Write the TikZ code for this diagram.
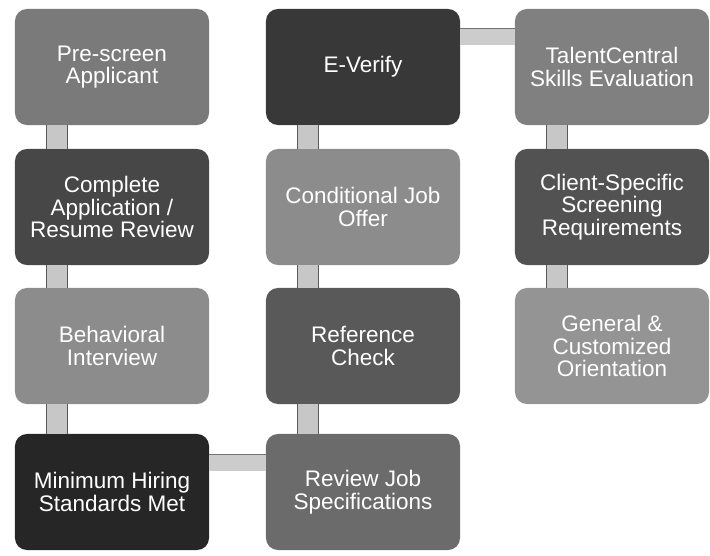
\documentclass[tikz,border=0pt]{standalone}
\usepackage{fontspec}
\setmainfont{Liberation Sans}
\usetikzlibrary{calc}

\begin{document}
\begin{tikzpicture}[x=0.025cm,y=-0.025cm,
stage/.style={rectangle,rounded corners=0.3cm,minimum width=4.85cm,minimum height=2.9cm,inner sep=2pt,align=center,text=white,font=\fontsize{16}{16}\selectfont},
vlink/.style={draw=black!65,line width=0.6pt,double=black!22,double distance=0.5cm},
hlink/.style={draw=black!55,line width=0.5pt,double=black!20,double distance=0.4cm}]

\useasboundingbox (0,0) rectangle (710,555);

\node[stage,fill=black!52] (pre) at (112,67) {Pre-screen\\Applicant};
\node[stage,fill=black!72] (app) at (112,207) {Complete\\Application /\\Resume Review};
\node[stage,fill=black!45] (beh) at (112,346) {Behavioral\\Interview};
\node[stage,fill=black!85] (mhs) at (112,492) {Minimum Hiring\\Standards Met};

\node[stage,fill=black!58] (rjs) at (363,492) {Review Job\\Specifications};
\node[stage,fill=black!65] (ref) at (363,346) {Reference\\Check};
\node[stage,fill=black!45] (cjo) at (363,207) {Conditional Job\\Offer};
\node[stage,fill=black!78] (ever) at (363,67) {E-Verify};

\node[stage,fill=black!50] (tal) at (612,67) {TalentCentral\\Skills Evaluation};
\node[stage,fill=black!68] (csr) at (612,207) {Client-Specific\\Screening\\Requirements};
\node[stage,fill=black!42] (gen) at (612,346) {General \&\\Customized\\Orientation};

\draw[vlink] ($(pre.south west)+(42,0)$) -- ($(app.north west)+(42,0)$);
\draw[vlink] ($(app.south west)+(42,0)$) -- ($(beh.north west)+(42,0)$);
\draw[vlink] ($(beh.south west)+(42,0)$) -- ($(mhs.north west)+(42,0)$);
\draw[hlink] ($(mhs.north east)+(0,29)$) -- ($(rjs.north west)+(0,29)$);
\draw[vlink] ($(rjs.north west)+(42,0)$) -- ($(ref.south west)+(42,0)$);
\draw[vlink] ($(ref.north west)+(42,0)$) -- ($(cjo.south west)+(42,0)$);
\draw[vlink] ($(cjo.north west)+(42,0)$) -- ($(ever.south west)+(42,0)$);
\draw[hlink] ($(ever.north east)+(0,28)$) -- ($(tal.north west)+(0,28)$);
\draw[vlink] ($(tal.south west)+(42,0)$) -- ($(csr.north west)+(42,0)$);
\draw[vlink] ($(csr.south west)+(42,0)$) -- ($(gen.north west)+(42,0)$);
\end{tikzpicture}
\end{document}
